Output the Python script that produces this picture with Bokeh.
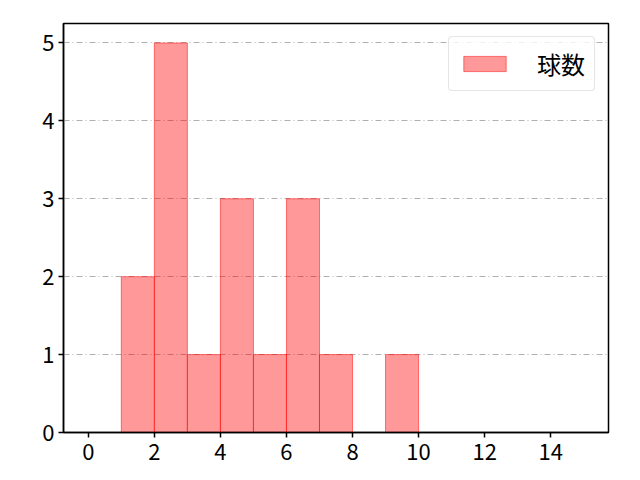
from bokeh.plotting import figure
from bokeh.embed import file_html
from bokeh.resources import INLINE
from bokeh.models import Range1d, FixedTicker, ColumnDataSource

bin_left = [1, 2, 3, 4, 5, 6, 7, 8, 9]
bin_right = [2, 3, 4, 5, 6, 7, 8, 9, 10]
counts = [2, 5, 1, 3, 1, 3, 1, 0, 1]
x_ticks = [0, 2, 4, 6, 8, 10, 12, 14]
y_ticks = [0, 1, 2, 3, 4, 5]
series_name = "球数"

FONT = "Noto Sans CJK JP"

p = figure(width=624, height=464, output_backend="svg", toolbar_location=None,
           x_range=Range1d(-0.75, 15.75), y_range=Range1d(0, 5.25),
           min_border_left=63, min_border_right=16, min_border_top=23, min_border_bottom=32)

src = ColumnDataSource(dict(left=bin_left, right=bin_right, top=counts, bottom=[0]*len(counts)))
p.quad(left="left", right="right", top="top", bottom="bottom", source=src,
       fill_color="red", fill_alpha=0.4, line_color="red", line_alpha=0.5, line_width=1,
       legend_label=series_name)

p.xaxis.ticker = FixedTicker(ticks=x_ticks)
p.yaxis.ticker = FixedTicker(ticks=y_ticks)
for ax in (p.xaxis[0], p.yaxis[0]):
    ax.major_label_text_font = FONT
    ax.major_label_text_font_size = "22px"
    ax.major_label_text_font_style = "normal"
    ax.major_label_text_color = "black"
    ax.axis_line_color = "black"
    ax.axis_line_width = 1.5
    ax.major_tick_line_color = "black"
    ax.major_tick_line_width = 1.5
    ax.major_tick_in = 0
    ax.major_tick_out = 5
    ax.minor_tick_line_color = None
p.xaxis.major_label_standoff = 6
p.yaxis.major_label_standoff = 4

p.xgrid.grid_line_color = None
p.ygrid.grid_line_color = "#b0b0b0"
p.ygrid.grid_line_dash = "6 3 1 3"
p.ygrid.grid_line_width = 1

p.outline_line_color = "black"
p.outline_line_width = 1.5
p.outline_line_alpha = 1

p.legend.location = "top_right"
p.legend.label_text_font = FONT
p.legend.label_text_font_size = "24px"
p.legend.label_text_color = "black"
p.legend.border_line_color = "#cccccc"
p.legend.border_line_width = 1
p.legend.border_radius = 4
p.legend.glyph_width = 53
p.legend.glyph_height = 19
p.legend.label_standoff = 26
p.legend.padding = 9
p.legend.margin = 13
p.legend.background_fill_alpha = 0.8

open("out.html", "w").write(file_html(p, INLINE))
